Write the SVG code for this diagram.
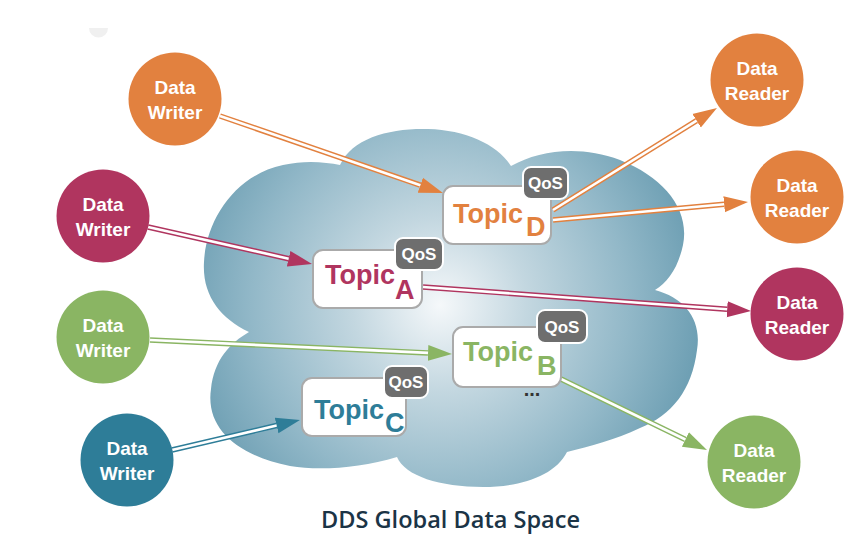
<svg xmlns="http://www.w3.org/2000/svg" width="865" height="542" viewBox="0 0 865 542">
<defs>
<radialGradient id="cloudGrad" gradientUnits="userSpaceOnUse" cx="440" cy="305" r="290">
<stop offset="0" stop-color="#f5f8fa"/>
<stop offset="0.3" stop-color="#c3d7e0"/>
<stop offset="0.65" stop-color="#92b8c8"/>
<stop offset="1" stop-color="#5f95ab"/>
</radialGradient>
<marker id="mOr" markerUnits="userSpaceOnUse" markerWidth="24" markerHeight="18" viewBox="0 -9 24 18" refX="0" refY="0" orient="auto"><path d="M0,-8 L24,0 L0,8 z" fill="#e2813f"/></marker>
<marker id="mMa" markerUnits="userSpaceOnUse" markerWidth="24" markerHeight="18" viewBox="0 -9 24 18" refX="0" refY="0" orient="auto"><path d="M0,-8 L24,0 L0,8 z" fill="#b0355f"/></marker>
<marker id="mGr" markerUnits="userSpaceOnUse" markerWidth="24" markerHeight="18" viewBox="0 -9 24 18" refX="0" refY="0" orient="auto"><path d="M0,-8 L24,0 L0,8 z" fill="#8ab563"/></marker>
<marker id="mTe" markerUnits="userSpaceOnUse" markerWidth="24" markerHeight="18" viewBox="0 -9 24 18" refX="0" refY="0" orient="auto"><path d="M0,-8 L24,0 L0,8 z" fill="#2e7d98"/></marker>
</defs>
<style>
.outer{fill:none;stroke-width:5.5;stroke-linecap:butt}
.inner{fill:none;stroke:#ffffff;stroke-width:2.6;stroke-linecap:butt}
.or{stroke:#e2813f}.ma{stroke:#b0355f}.gr{stroke:#8ab563}.te{stroke:#2e7d98}
.box{fill:#ffffff;stroke:#aaaaaa;stroke-width:2}
.qos{fill:#6e6e6e;stroke:#ffffff;stroke-width:2}
.qt{font-family:"Liberation Sans",Arial,sans-serif;font-weight:bold;font-size:17px;fill:#ffffff;text-anchor:middle}
.tp{font-family:"Liberation Sans",Arial,sans-serif;font-weight:bold;font-size:27px}
.ct{font-family:"Liberation Sans",Arial,sans-serif;font-weight:bold;font-size:19px;fill:#ffffff;text-anchor:middle}
</style>
<rect width="865" height="542" fill="#ffffff"/>
<path d="M89,28 L108,28 A9.5,9.5 0 0 1 89,28 Z" fill="#f0f0f0"/>
<g id="cloud">
<path d="M340,165 C352,138 390,128 428,129 C466,130 498,145 511,166 C540,150 580,145 620,160 C665,178 690,210 683,245 C678,268 668,282 655,290 C685,298 702,320 697,350 C692,390 672,415 640,428 C615,440 590,446 567,452 C555,476 520,487 483,487 C440,487 405,476 397,457 C360,468 320,471 290,466 C240,456 205,430 211,389 C214,360 230,343 249,332 C220,318 202,295 204,262 C206,220 235,175 283,165 C305,160 325,162 340,165 Z" fill="url(#cloudGrad)"/>
</g>
<g id="connectors">
<path class="outer or" d="M220,116 L420.3,185.2" marker-end="url(#mOr)"/><path class="inner" d="M220,116 L420.3,185.2"/>
<path class="outer or" d="M553,210 L696.6,120.7" marker-end="url(#mOr)"/><path class="inner" d="M553,210 L696.6,120.7"/>
<path class="outer or" d="M553,220 L724.1,204.2" marker-end="url(#mOr)"/><path class="inner" d="M553,220 L724.1,204.2"/>
<path class="outer ma" d="M148,227 L288.6,258.7" marker-end="url(#mMa)"/><path class="inner" d="M148,227 L288.6,258.7"/>
<path class="outer ma" d="M423,287 L727.1,309.2" marker-end="url(#mMa)"/><path class="inner" d="M423,287 L727.1,309.2"/>
<path class="outer gr" d="M150,340 L428,352.9" marker-end="url(#mGr)"/><path class="inner" d="M150,340 L428,352.9"/>
<path class="outer gr" d="M561,379 L685.4,439.5" marker-end="url(#mGr)"/><path class="inner" d="M561,379 L685.4,439.5"/>
<path class="outer te" d="M172,450 L276.6,425.5" marker-end="url(#mTe)"/><path class="inner" d="M172,450 L276.6,425.5"/>
</g>
<g id="topicD">
<rect class="box" x="443" y="186" width="108" height="58" rx="10"/>
<text class="tp" x="453" y="223" fill="#e2813f">Topic</text>
<text class="tp" x="526" y="236" fill="#e2813f">D</text>
<rect class="qos" x="523" y="167" width="45" height="32" rx="8"/>
<text class="qt" x="545.5" y="189">QoS</text>
</g>
<g id="topicA">
<rect class="box" x="313" y="250" width="109" height="58" rx="10"/>
<text class="tp" x="325" y="284" fill="#b0355f">Topic</text>
<text class="tp" x="395" y="299" fill="#b0355f">A</text>
<rect class="qos" x="395" y="238" width="48" height="32" rx="8"/>
<text class="qt" x="419" y="260">QoS</text>
</g>
<g id="topicB">
<rect class="box" x="453" y="327" width="108" height="60" rx="10"/>
<text class="tp" x="463" y="361" fill="#8ab563">Topic</text>
<text class="tp" x="537" y="375" fill="#8ab563">B</text>
<rect class="qos" x="537" y="310" width="50" height="33" rx="8"/>
<text class="qt" x="562" y="332.5">QoS</text>
<text x="532" y="396" font-family="Liberation Sans, Arial, sans-serif" font-weight="bold" font-size="20" fill="#333333" text-anchor="middle">...</text>
</g>
<g id="topicC">
<rect class="box" x="302" y="378" width="104" height="58" rx="10"/>
<text class="tp" x="314" y="419" fill="#2e7d98">Topic</text>
<text class="tp" x="385" y="432" fill="#2e7d98">C</text>
<rect class="qos" x="384" y="366" width="44" height="32" rx="8"/>
<text class="qt" x="406" y="388">QoS</text>
</g>
<g id="writerOrange">
<circle cx="175" cy="99" r="46.5" fill="#e2813f"/>
<text class="ct" x="175" y="94">Data</text>
<text class="ct" x="175" y="119">Writer</text>
</g>
<g id="writerMagenta">
<circle cx="103" cy="216" r="46.5" fill="#b0355f"/>
<text class="ct" x="103" y="211">Data</text>
<text class="ct" x="103" y="236">Writer</text>
</g>
<g id="writerGreen">
<circle cx="103" cy="337" r="46.5" fill="#8ab563"/>
<text class="ct" x="103" y="332">Data</text>
<text class="ct" x="103" y="357">Writer</text>
</g>
<g id="writerTeal">
<circle cx="127" cy="460" r="46.5" fill="#2e7d98"/>
<text class="ct" x="127" y="455">Data</text>
<text class="ct" x="127" y="480">Writer</text>
</g>
<g id="readerOrange1">
<circle cx="757" cy="80" r="46.5" fill="#e2813f"/>
<text class="ct" x="757" y="75">Data</text>
<text class="ct" x="757" y="100">Reader</text>
</g>
<g id="readerOrange2">
<circle cx="797" cy="197" r="46.5" fill="#e2813f"/>
<text class="ct" x="797" y="192">Data</text>
<text class="ct" x="797" y="217">Reader</text>
</g>
<g id="readerMagenta">
<circle cx="797" cy="314" r="46.5" fill="#b0355f"/>
<text class="ct" x="797" y="309">Data</text>
<text class="ct" x="797" y="334">Reader</text>
</g>
<g id="readerGreen">
<circle cx="754" cy="462" r="46.5" fill="#8ab563"/>
<text class="ct" x="754" y="457">Data</text>
<text class="ct" x="754" y="482">Reader</text>
</g>
<text x="450.5" y="528" font-family="Open Sans, Noto Sans, sans-serif" font-weight="600" font-size="23" fill="#1b3446" text-anchor="middle" textLength="259" lengthAdjust="spacingAndGlyphs">DDS Global Data Space</text>
</svg>
